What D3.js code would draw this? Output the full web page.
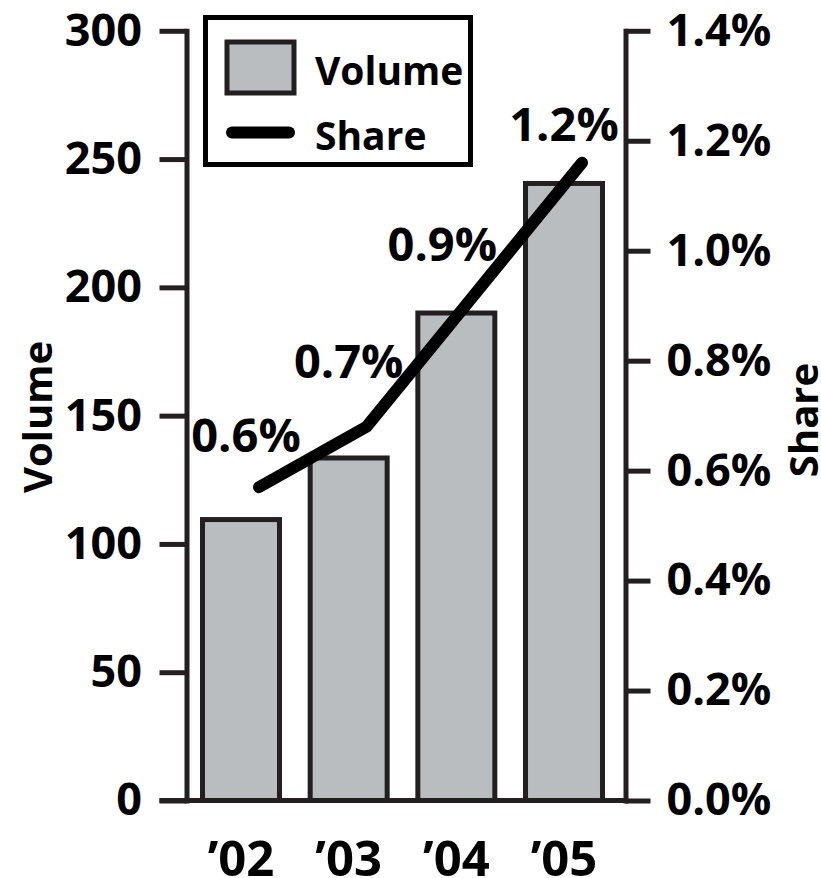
<!DOCTYPE html>
<html>
<head>
<meta charset="utf-8">
<script src="https://cdn.jsdelivr.net/npm/d3@7"></script>
<style>
  html, body { margin: 0; padding: 0; background: #fff; }
  svg { display: block; font-family: "Open Sans", "Noto Sans", sans-serif; font-weight: 750; }
</style>
</head>
<body>
<svg id="chart" width="821" height="878"></svg>
<script>
// Yearly volume (bars, left axis) and share (line, right axis, in percent)
const years = ["\u201902", "\u201903", "\u201904", "\u201905"];
const volume = [109.5, 133.5, 190, 240.5];
const share = [0.57, 0.68, 0.92, 1.16];
const volumeTicks = [0, 50, 100, 150, 200, 250, 300];
const shareTicks = [0, 0.2, 0.4, 0.6, 0.8, 1.0, 1.2, 1.4];
const legendItems = ["Volume", "Share"];

const ink = "#231f20";
const barFill = "#babdc0";

const svg = d3.select("#chart");

const leftX = 186.5, rightX = 625.5;
const yTop = 30.8, yBottom = 800.5;

const x = d3.scaleBand().domain(years).range([187, 618])
  .paddingInner(0.285).paddingOuter(0.144);
const yVol = d3.scaleLinear().domain([0, 300]).range([yBottom, yTop]);
const yShare = d3.scaleLinear().domain([0, 1.4]).range([yBottom, yTop]);

// Bars
svg.append("g").selectAll("rect").data(volume).join("rect")
  .attr("x", (d, i) => x(years[i]))
  .attr("y", d => yVol(d))
  .attr("width", x.bandwidth())
  .attr("height", d => yVol(0) - yVol(d))
  .attr("fill", barFill)
  .attr("stroke", ink)
  .attr("stroke-width", 5);

// Baseline (extends left to meet the zero tick)
const tickLen = 27;
svg.append("line")
  .attr("x1", leftX - tickLen).attr("x2", rightX)
  .attr("y1", yVol(0)).attr("y2", yVol(0))
  .attr("stroke", ink).attr("stroke-width", 5);

// Left axis
const gLeft = svg.append("g").attr("transform", `translate(${leftX},0)`)
  .call(d3.axisLeft(yVol).tickValues(volumeTicks).tickSize(tickLen).tickSizeOuter(0).tickPadding(17.5));
// Right axis
const gRight = svg.append("g").attr("transform", `translate(${rightX},0)`)
  .call(d3.axisRight(yShare).tickValues(shareTicks).tickSize(25).tickSizeOuter(0).tickPadding(16)
    .tickFormat(d => d3.format(".1f")(d) + "%"));
// Category axis
const gBottom = svg.append("g").attr("transform", `translate(0,${yBottom})`)
  .call(d3.axisBottom(x).tickSize(0).tickPadding(41));
gBottom.select(".domain").remove();

[gLeft, gRight].forEach(g => {
  g.select(".domain").attr("stroke", ink).attr("stroke-width", 5).attr("stroke-linecap", "square");
  g.selectAll(".tick line").attr("stroke", ink).attr("stroke-width", 5);
});
[gLeft, gRight, gBottom].forEach(g => {
  g.attr("font-family", null).attr("font-size", null);
  g.selectAll(".tick text").attr("fill", "#000").style("font-size", "45px");
});
gBottom.selectAll(".tick text").style("font-size", "49px");

// Share line
const lineShift = 18;
const px = i => x(years[i]) + x.bandwidth() / 2 + lineShift;
const line = d3.line().x((d, i) => px(i)).y(d => yShare(d));
svg.append("path").datum(share)
  .attr("d", line)
  .attr("fill", "none")
  .attr("stroke", "#000")
  .attr("stroke-width", 12)
  .attr("stroke-linecap", "round")
  .attr("stroke-linejoin", "miter");

// Value labels above the line points
const labelShift = [[-13, -35], [-18, -49], [-32, -34], [-18, -22]];
svg.append("g").selectAll("text").data(share).join("text")
  .attr("x", (d, i) => px(i) + labelShift[i][0])
  .attr("y", (d, i) => yShare(d) + labelShift[i][1])
  .attr("text-anchor", "middle")
  .attr("fill", "#000")
  .style("font-size", "47px")
  .text(d => d3.format(".1f")(d) + "%");

// Axis titles
svg.append("text")
  .attr("transform", "translate(52,417) rotate(-90)")
  .attr("text-anchor", "middle").attr("fill", "#000").style("font-size", "40px")
  .text("Volume");
svg.append("text")
  .attr("transform", "translate(818,420) rotate(-90)")
  .attr("text-anchor", "middle").attr("fill", "#000").style("font-size", "40px")
  .text("Share");

// Legend
const lg = svg.append("g");
lg.append("rect").attr("x", 205.5).attr("y", 17.5).attr("width", 265).attr("height", 147)
  .attr("fill", "#fff").attr("stroke", "#000").attr("stroke-width", 5);
lg.append("rect").attr("x", 227).attr("y", 42).attr("width", 67).attr("height", 51)
  .attr("fill", barFill).attr("stroke", ink).attr("stroke-width", 5);
lg.append("line").attr("x1", 232).attr("x2", 289).attr("y1", 132.5).attr("y2", 132.5)
  .attr("stroke", "#000").attr("stroke-width", 12).attr("stroke-linecap", "round");
lg.selectAll("text.item").data(legendItems).join("text")
  .attr("class", "item")
  .attr("x", 315)
  .attr("y", (d, i) => [85, 150][i])
  .attr("fill", "#000").style("font-size", "39px")
  .text(d => d);
</script>
</body>
</html>
